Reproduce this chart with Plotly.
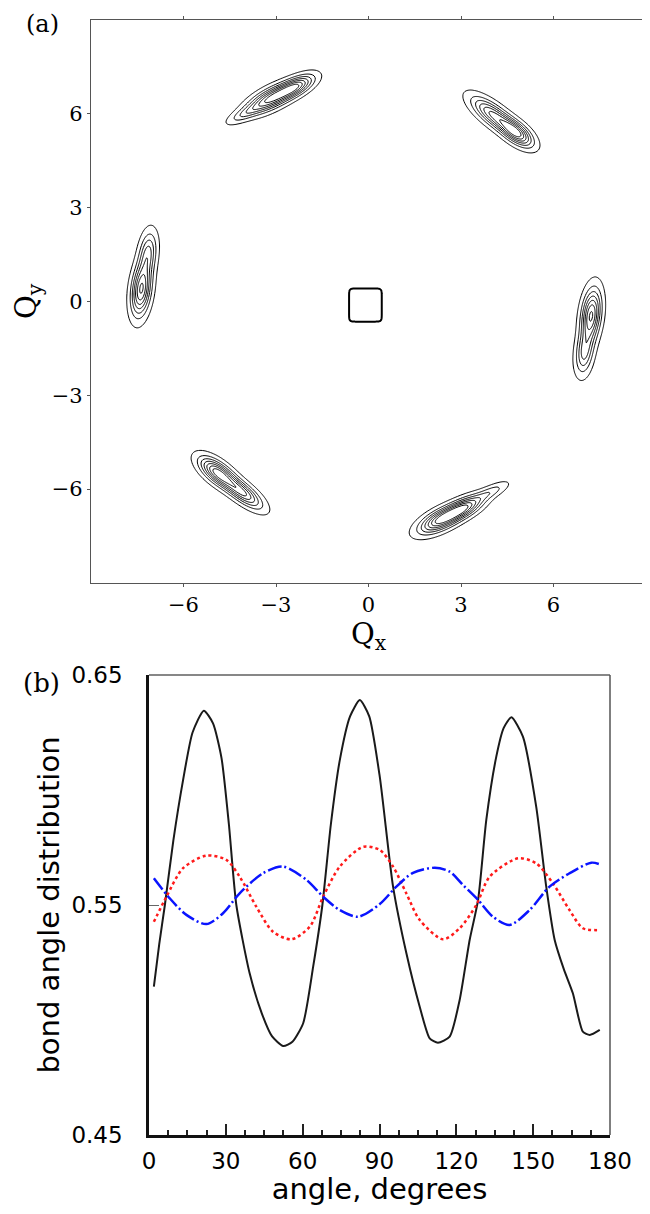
import numpy as np
import plotly.graph_objects as go

# ---------------- Panel (a): diffraction peaks ----------------
# each component: centre x, centre y, amplitude, sigma along streak, sigma across, streak angle (deg)
peak_cx    = [-3.15, -2.35, -4.00,  2.35,  3.10,  3.95,  4.05,  4.80, -4.90, -4.10,  7.22,  7.00, -7.37, -7.15]
peak_cy    = [ 6.48,  6.86,  6.00, -6.98, -6.60, -6.10,  5.95,  5.38, -5.47, -6.10, -0.45, -1.65,  0.38,  1.55]
peak_amp   = [ 1.00,  0.80,  0.30,  1.00,  0.85,  0.30,  0.85,  0.95,  1.00,  0.85,  1.00,  0.55,  1.00,  0.55]
peak_slong = [ 0.55,  0.42,  0.40,  0.50,  0.45,  0.40,  0.55,  0.40,  0.45,  0.50,  0.55,  0.45,  0.55,  0.45]
peak_sshort= [ 0.20,  0.17,  0.12,  0.20,  0.18,  0.12,  0.20,  0.19,  0.20,  0.18,  0.20,  0.18,  0.20,  0.18]
peak_angle = [ 26.6,  26.6,  26.6,  26.0,  26.0,  26.0, -37.0, -37.0, -37.0, -37.0,  83.0,  83.0,  83.0,  83.0]

# central (direct beam) feature
centre_x, centre_y, centre_half, centre_power = -0.10, -0.12, 0.53, 10

qx_ticks = [-6, -3, 0, 3, 6]
qy_ticks = [-6, -3, 0, 3, 6]

# ---------------- Panel (b): bond angle distribution ----------------
ang_black = [1.9, 4.0, 6.2, 9.5, 13.3, 17.0, 21.4, 25.0, 28.3, 31.2, 34.1, 39.3, 44.0, 48.0, 52.4, 56.0,
             60.2, 64.1, 67.7, 71.0, 74.5, 78.5, 82.3, 86.0, 90.1, 95.3, 100.5, 105.7, 109.6, 112.8, 117.4,
             121.3, 125.2, 128.5, 131.7, 135.6, 138.5, 141.5, 146.0, 151.2, 155.1, 158.4, 162.0, 165.5,
             169.4, 172.1, 176.0]
val_black = [0.5145, 0.533, 0.550, 0.578, 0.6043, 0.625, 0.6345, 0.629, 0.614, 0.585, 0.550, 0.5203,
             0.503, 0.493, 0.4887, 0.4905, 0.4986, 0.5232, 0.550, 0.585, 0.613, 0.632, 0.6391, 0.632,
             0.6058, 0.558, 0.529, 0.5058, 0.492, 0.4901, 0.4928, 0.5087, 0.5348, 0.5522, 0.587, 0.6145,
             0.627, 0.6316, 0.6232, 0.5927, 0.558, 0.5348, 0.522, 0.5116, 0.4949, 0.4935, 0.4957]

ang_red = [1.9, 6.8, 13.3, 22.4, 30.2, 35.4, 41.9, 48.4, 55.6, 62.8, 68.0, 74.5, 83.6, 90.1, 95.3, 100.5,
           105.7, 114.8, 121.3, 127.8, 133.0, 144.1, 151.2, 157.7, 164.2, 169.4, 176.0]
val_red = [0.5427, 0.5536, 0.566, 0.5715, 0.5696, 0.5623, 0.5493, 0.5384, 0.5351, 0.5406, 0.5536, 0.5667,
           0.5753, 0.5739, 0.5667, 0.555, 0.5435, 0.5351, 0.5399, 0.550, 0.5623, 0.5703, 0.5681, 0.5594,
           0.5478, 0.5399, 0.5391]

ang_blue = [1.9, 8.1, 14.6, 22.4, 28.9, 35.4, 44.5, 52.3, 61.5, 68.0, 74.5, 81.6, 90.1, 96.6, 103.1, 111.6,
            117.4, 122.6, 128.5, 134.3, 140.8, 148.6, 156.4, 164.2, 172.7, 176.0]
val_blue = [0.5616, 0.5529, 0.5457, 0.5417, 0.5464, 0.5551, 0.5638, 0.5667, 0.5609, 0.5536, 0.5478, 0.5449,
            0.5504, 0.558, 0.564, 0.5662, 0.5645, 0.5587, 0.5522, 0.5449, 0.5413, 0.5478, 0.558, 0.5638,
            0.5684, 0.5677]

ang_ticks = [0, 30, 60, 90, 120, 150, 180]
dist_ticks = [0.45, 0.55, 0.65]

# ---------------- build intensity field ----------------
gx = np.linspace(-9, 9, 541)
gy = np.linspace(-9, 9, 541)
X, Y = np.meshgrid(gx, gy)
Z = np.zeros_like(X)
for cx, cy, a, sl, ss, th in zip(peak_cx, peak_cy, peak_amp, peak_slong, peak_sshort, peak_angle):
    t = np.deg2rad(th)
    u = (X - cx) * np.cos(t) + (Y - cy) * np.sin(t)
    v = -(X - cx) * np.sin(t) + (Y - cy) * np.cos(t)
    Z += a * np.exp(-0.5 * (u / sl) ** 2 - 0.5 * (v / ss) ** 2)
Z = np.round(np.where(Z < 1e-3, 0, Z), 3)

cgx = np.linspace(-1.2, 1.2, 241)
CX, CY = np.meshgrid(cgx, cgx)
CZ = (np.abs(CX - centre_x) / centre_half) ** centre_power + (np.abs(CY - centre_y) / centre_half) ** centre_power
CZ = np.round(np.minimum(CZ, 5), 4)

black_scale = [[0, 'black'], [1, 'black']]

fig = go.Figure()
fig.add_trace(go.Contour(x=gx, y=gy, z=Z, xaxis='x', yaxis='y',
                         contours=dict(coloring='lines', start=0.08, end=0.99, size=0.15),
                         colorscale=black_scale, showscale=False, line=dict(width=1),
                         hoverinfo='skip'))
fig.add_trace(go.Contour(x=cgx, y=cgx, z=CZ, xaxis='x', yaxis='y',
                         contours=dict(coloring='lines', start=1, end=1.5, size=1),
                         colorscale=black_scale, showscale=False, line=dict(width=2),
                         hoverinfo='skip'))

fig.add_trace(go.Scatter(x=ang_black, y=val_black, mode='lines', xaxis='x2', yaxis='y2',
                         line=dict(color='#1a1a1a', width=2, shape='spline', smoothing=0.6)))
fig.add_trace(go.Scatter(x=ang_red, y=val_red, mode='lines', xaxis='x2', yaxis='y2',
                         line=dict(color='#ff1a1a', width=2.5, dash='3px,3px', shape='spline', smoothing=0.8)))
fig.add_trace(go.Scatter(x=ang_blue, y=val_blue, mode='lines', xaxis='x2', yaxis='y2',
                         line=dict(color='#0a14ff', width=2.5, dash='14px,3px,2px,3px', shape='spline', smoothing=0.8)))

serif = 'DejaVu Serif'
sans = 'DejaVu Sans'

# the page body adds an 8px offset; figure is sized so that it fills the window exactly
W, H, OFF = 642, 1198, 8


def px_x(p):
    return (p - OFF) / W


def px_y(p):
    return 1 - (p - OFF) / H


fig.update_layout(
    width=W, height=H,
    margin=dict(l=0, r=0, t=0, b=0, autoexpand=False),
    paper_bgcolor='white', plot_bgcolor='white',
    showlegend=False,
    xaxis=dict(domain=[px_x(91), min(1.0, px_x(646))], range=[-9, 9], anchor='y', automargin=False,
               tickvals=qx_ticks, ticktext=[str(v).replace('-', '\u2212') for v in qx_ticks],
               ticks='outside', ticklen=3, tickcolor='#555', showline=True, linecolor='#555', linewidth=1.2,
               mirror='ticks', showgrid=False, zeroline=False,
               tickfont=dict(family=serif, size=21, color='black'),
               title=dict(text='Q<sub>x</sub>', font=dict(family=serif, size=29, color='black'), standoff=0)),
    yaxis=dict(domain=[px_y(583), px_y(19.6)], range=[-9, 9], anchor='x', automargin=False,
               tickvals=qy_ticks, ticktext=[str(v).replace('-', '\u2212') for v in qy_ticks],
               ticks='outside', ticklen=3, tickcolor='#555', showline=True, linecolor='#555', linewidth=1.2,
               mirror='ticks', showgrid=False, zeroline=False,
               tickfont=dict(family=serif, size=21, color='black'),
               title=dict(text='Q<sub>y</sub>', font=dict(family=serif, size=29, color='black'), standoff=6)),
    xaxis2=dict(domain=[px_x(149), px_x(610)], range=[0, 180], anchor='y2', automargin=False,
                tickvals=ang_ticks, ticks='inside', ticklen=11, tickwidth=1.5, tickcolor='#222',
                minor=dict(dtick=7.5, tick0=0, ticks='inside', ticklen=5, tickwidth=1.5, tickcolor='#222'),
                showline=True, linecolor='#111', linewidth=2.5, showgrid=False, zeroline=False,
                tickfont=dict(family=sans, size=23, color='black'), ticklabelstandoff=4,
                title=dict(text='angle, degrees', font=dict(family=sans, size=29, color='black'), standoff=9)),
    yaxis2=dict(domain=[px_y(1135), px_y(675)], range=[0.45, 0.65], anchor='x2', automargin=False,
                tickvals=dist_ticks, ticktext=['%.2f' % v for v in dist_ticks],
                ticks='inside', ticklen=10, tickwidth=1.2, tickcolor='#666',
                showline=True, linecolor='#111', linewidth=2.5, showgrid=False, zeroline=False,
                tickfont=dict(family=sans, size=23, color='black'), ticklabelstandoff=19,
                title=dict(text='bond angle distribution', font=dict(family=sans, size=29, color='black'),
                           standoff=4)),
    shapes=[
        dict(type='line', xref='x2 domain', yref='y2 domain', x0=0, x1=1, y0=1, y1=1,
             line=dict(color='#111', width=1.2)),
        dict(type='line', xref='x2 domain', yref='y2 domain', x0=1, x1=1, y0=0, y1=1,
             line=dict(color='#555', width=1.5)),
    ],
    annotations=[
        dict(text='(a)', xref='paper', yref='paper', x=px_x(24), y=1,
             xanchor='left', yanchor='top', showarrow=False,
             font=dict(family=serif, size=24, color='black')),
        dict(text='(b)', xref='paper', yref='paper', x=px_x(21), y=px_y(683),
             xanchor='left', yanchor='middle', showarrow=False,
             font=dict(family=serif, size=26, color='black')),
    ],
)

fig.write_html('out.html')
